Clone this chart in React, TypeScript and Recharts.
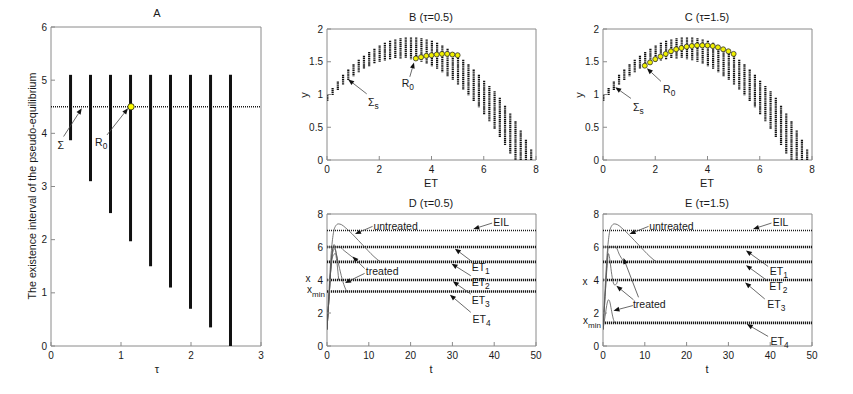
import React from "react";
import {
  ComposedChart,
  Bar,
  Line,
  XAxis,
  YAxis,
  ReferenceLine,
  ReferenceDot,
  ReferenceArea,
} from "recharts";

const FONT = "'Liberation Sans', Arial, Helvetica, sans-serif";
const INK = "#1a1a1a";
const BOX = "#8a8a8a";
const CURVE = "#555";

// ---- panel A: existence interval vs tau
const tauValues = [0.286, 0.571, 0.857, 1.143, 1.429, 1.714, 2.0, 2.286, 2.571];
const intervalLow = [3.87, 3.1, 2.5, 1.97, 1.5, 1.1, 0.7, 0.35, 0];
const intervalHigh = [5.1, 5.1, 5.1, 5.1, 5.1, 5.1, 5.1, 5.1, 5.1];
const sigmaLevel = 4.5;
const r0Tau = [1.143];

// ---- panels B, C: sliding domain columns
const etValues = [
  0, 0.2, 0.4, 0.6, 0.8, 1, 1.2, 1.4, 1.6, 1.8, 2, 2.2, 2.4, 2.6, 2.8, 3, 3.2, 3.4, 3.6, 3.8,
  4, 4.2, 4.4, 4.6, 4.8, 5, 5.2, 5.4, 5.6, 5.8, 6, 6.2, 6.4, 6.6, 6.8, 7, 7.2, 7.4, 7.6, 7.8,
];
const yHigh = [
  1.0, 1.1, 1.2, 1.3, 1.38, 1.46, 1.53, 1.59, 1.65, 1.7, 1.75, 1.79, 1.82, 1.84, 1.86, 1.87, 1.87, 1.87, 1.86, 1.84,
  1.82, 1.79, 1.75, 1.7, 1.65, 1.59, 1.53, 1.46, 1.38, 1.3, 1.21, 1.13, 1.05, 0.95, 0.83, 0.71, 0.59, 0.45, 0.31, 0.16,
];
const yLow = [
  0.9, 0.99, 1.07, 1.15, 1.22, 1.28, 1.34, 1.39, 1.43, 1.47, 1.5, 1.52, 1.54, 1.55, 1.55, 1.55, 1.54, 1.52, 1.5, 1.47,
  1.43, 1.39, 1.34, 1.28, 1.22, 1.15, 1.07, 0.99, 0.9, 0.8, 0.7, 0.59, 0.47, 0.35, 0.22, 0.09, 0, 0, 0, 0,
];
const r0EtB = [3.4, 3.6, 3.8, 4.0, 4.2, 4.4, 4.6, 4.8, 5.0];
const r0YB = [1.55, 1.57, 1.59, 1.6, 1.61, 1.62, 1.62, 1.61, 1.6];
const r0EtC = [1.6, 1.8, 2.0, 2.2, 2.4, 2.6, 2.8, 3.0, 3.2, 3.4, 3.6, 3.8, 4.0, 4.2, 4.4, 4.6, 4.8, 5.0];
const r0YC = [1.44, 1.49, 1.54, 1.58, 1.62, 1.66, 1.69, 1.71, 1.73, 1.74, 1.75, 1.75, 1.75, 1.74, 1.72, 1.69, 1.66, 1.62];

// ---- panels D, E: time series
const levelNames = ["EIL", "ET1", "ET2", "ET3", "ET4"];
const levelsD = [7, 6, 5.1, 4, 3.3];
const levelsE = [7, 6, 5.1, 4, 1.4];

const untreatedT = [0, 0.5, 1, 1.5, 2, 2.7, 3.5, 4.5, 6, 7.5, 9, 10.5, 12, 12.8];
const untreatedX = [1, 3.5, 5.6, 6.8, 7.25, 7.4, 7.35, 7.15, 6.8, 6.4, 6.0, 5.6, 5.25, 5.1];

const treatedD = [
  { t: [0, 0.5, 1, 1.4, 1.7, 2.2, 3, 3.8, 4.7], x: [1, 3, 5, 5.9, 6.15, 5.6, 4.7, 3.9, 3.3] },
  { t: [0, 0.5, 1, 1.4, 1.9, 2.3, 2.6], x: [1, 3, 5, 5.7, 5.9, 5.5, 5.1] },
  { t: [0, 0.5, 1, 1.5, 2, 2.4, 2.8], x: [1, 3, 4.9, 5.5, 5.6, 5.0, 4.0] },
  { t: [0, 0.5, 1, 1.5, 2.3, 3, 4, 5, 6, 7, 7.6], x: [1, 3, 5, 6, 6, 6, 5.8, 5.6, 5.4, 5.2, 5.1] },
];
const treatedE = [
  { t: [0, 0.5, 1, 1.3, 2, 3, 4, 5], x: [1, 3, 5.2, 6, 6, 6, 5.5, 5.1] },
  { t: [0, 0.5, 1, 1.3, 1.6, 2, 2.4, 2.8, 3.2, 3.5], x: [1, 3, 4.9, 5.6, 5.3, 4.5, 3.9, 3.7, 3.75, 4.0] },
  { t: [0, 0.5, 1, 1.3, 1.6, 2, 2.4, 2.8], x: [1, 1.8, 2.6, 2.8, 2.7, 2.2, 1.7, 1.4] },
];

// annotations: label position + arrows [tailX, tailY, headX, headY] in data units
type Note = {
  main: string;
  sub?: string;
  at: [number, number];
  anchor?: "start" | "middle" | "end";
  arrows: number[][];
};

const notesA: Note[] = [
  { main: "Σ", at: [0.14, 3.78], anchor: "middle", arrows: [[0.18, 3.94, 0.44, 4.47]] },
  { main: "R", sub: "0", at: [0.63, 3.83], arrows: [[0.8, 3.97, 1.1, 4.47]] },
];
const notesB: Note[] = [
  { main: "Σ", sub: "s", at: [1.57, 0.89], arrows: [[1.52, 1.01, 0.81, 1.23]] },
  { main: "R", sub: "0", at: [2.86, 1.18], arrows: [[3.17, 1.27, 3.33, 1.49]] },
];
const notesC: Note[] = [
  { main: "Σ", sub: "s", at: [1.15, 0.81], arrows: [[1.07, 0.94, 0.47, 1.11]] },
  { main: "R", sub: "0", at: [2.3, 1.08], arrows: [[2.22, 1.2, 1.68, 1.4]] },
];
const notesD: Note[] = [
  { main: "untreated", at: [11.1, 7.25], arrows: [[10.9, 7.25, 6.7, 6.79]] },
  { main: "EIL", at: [39.8, 7.51], arrows: [[39.5, 7.45, 35, 7.09]] },
  { main: "ET", sub: "1", at: [34.6, 4.8], arrows: [[34.4, 5.17, 30.6, 5.9]] },
  { main: "ET", sub: "2", at: [34.6, 3.9], arrows: [[34.4, 4.26, 29.8, 4.99]] },
  { main: "ET", sub: "3", at: [34.6, 2.79], arrows: [[34.4, 3.15, 30.1, 3.92]] },
  { main: "ET", sub: "4", at: [34.8, 1.61], arrows: [[34.4, 2.04, 29.4, 3.11]] },
  { main: "treated", at: [9.3, 4.56], arrows: [[9.0, 4.7, 6.1, 5.43], [9.0, 4.4, 4.3, 3.82]] },
];
const notesE: Note[] = [
  { main: "untreated", at: [11.05, 7.25], arrows: [[10.9, 7.25, 6.35, 6.79]] },
  { main: "EIL", at: [40.6, 7.51], arrows: [[40.3, 7.45, 35.9, 7.09]] },
  { main: "ET", sub: "1", at: [39.9, 4.56], arrows: [[39.5, 4.82, 34.2, 5.79]] },
  { main: "ET", sub: "2", at: [39.8, 3.65], arrows: [[39.3, 3.96, 34.2, 4.9]] },
  { main: "ET", sub: "3", at: [39.3, 2.55], arrows: [[38.7, 2.85, 34.0, 3.85]] },
  { main: "ET", sub: "4", at: [40.1, 0.28], arrows: [[39.5, 0.58, 34.4, 1.33]] },
  {
    main: "treated",
    at: [7.15, 2.56],
    arrows: [[8.5, 2.95, 4.9, 5.33], [7.3, 2.8, 3.2, 3.65], [7.15, 2.45, 2.5, 2.14]],
  },
];

function SubText({ x, y, main, sub, anchor = "start", size = 10.5 }: any) {
  return (
    <text x={x} y={y} textAnchor={anchor} fontSize={size} fontFamily={FONT} fill={INK} dominantBaseline="central">
      {main}
      {sub ? (
        <tspan dy={4} fontSize={size * 0.8}>
          {sub}
        </tspan>
      ) : null}
    </text>
  );
}

function arrowShape(p: any) {
  const { x1, y1, x2, y2 } = p;
  const dx = x2 - x1;
  const dy = y2 - y1;
  const len = Math.hypot(dx, dy) || 1;
  const ux = dx / len;
  const uy = dy / len;
  const bx = x2 - ux * 6;
  const by = y2 - uy * 6;
  const pts = `${x2},${y2} ${bx - uy * 2.4},${by + ux * 2.4} ${bx + uy * 2.4},${by - ux * 2.4}`;
  return (
    <g>
      <line x1={x1} y1={y1} x2={bx} y2={by} stroke="#444" strokeWidth={0.8} />
      <polygon points={pts} fill="#111" />
    </g>
  );
}

function renderNotes(notes: Note[], id: string) {
  const out: any[] = [];
  notes.forEach((n, i) => {
    n.arrows.forEach((a, j) => {
      out.push(
        <ReferenceLine
          key={`${id}-a${i}-${j}`}
          segment={[{ x: a[0], y: a[1] }, { x: a[2], y: a[3] }]}
          shape={arrowShape}
          ifOverflow="visible"
        />
      );
    });
    out.push(
      <ReferenceDot
        key={`${id}-l${i}`}
        x={n.at[0]}
        y={n.at[1]}
        r={1}
        fill="none"
        stroke="none"
        ifOverflow="visible"
        label={{
          content: (lp: any) => {
            const vb = lp.viewBox || {};
            return (
              <SubText
                x={vb.x + (vb.width || 0) / 2}
                y={vb.y + (vb.height || 0) / 2}
                main={n.main}
                sub={n.sub}
                anchor={n.anchor || "start"}
              />
            );
          },
        }}
      />
    );
  });
  return out;
}

const tickStyle = { fontSize: 10, fill: INK, fontFamily: FONT };

function frame(
  xKey: string,
  xDomain: number[],
  xTicks: number[],
  yDomain: number[],
  yTicks: number[],
  yWidth: number,
  xHeight: number
) {
  return [
    <XAxis
      key="xb"
      dataKey={xKey}
      type="number"
      domain={xDomain}
      ticks={xTicks}
      interval={0}
      allowDataOverflow
      height={xHeight}
      axisLine={false}
      tickLine={{ stroke: BOX }}
      tickSize={-4}
      tickMargin={9.5}
      tick={tickStyle}
    />,
    <XAxis
      key="xt"
      xAxisId="top"
      orientation="top"
      dataKey={xKey}
      type="number"
      domain={xDomain}
      ticks={xTicks}
      interval={0}
      allowDataOverflow
      height={0}
      axisLine={false}
      tickLine={{ stroke: BOX }}
      tickSize={-4}
      tick={false}
    />,
    <YAxis
      key="yl"
      type="number"
      domain={yDomain}
      ticks={yTicks}
      interval={0}
      allowDataOverflow
      width={yWidth}
      axisLine={false}
      tickLine={{ stroke: BOX }}
      tickSize={-4}
      tickMargin={8}
      tick={tickStyle}
    />,
    <YAxis
      key="yr"
      yAxisId="right"
      orientation="right"
      type="number"
      domain={yDomain}
      ticks={yTicks}
      interval={0}
      allowDataOverflow
      width={0}
      axisLine={false}
      tickLine={{ stroke: BOX }}
      tickSize={-4}
      tick={false}
    />,
    <ReferenceArea
      key="box"
      x1={xDomain[0]}
      x2={xDomain[1]}
      y1={yDomain[0]}
      y2={yDomain[1]}
      fill="none"
      stroke={BOX}
      strokeWidth={1}
      ifOverflow="visible"
    />,
  ];
}

function PanelA() {
  const data = tauValues.map((tau, i) => ({ tau, range: [intervalLow[i], intervalHigh[i]] }));
  const r0 = r0Tau.map((tau) => ({ tau, v: sigmaLevel }));
  return (
    <div style={{ position: "absolute", left: 0, top: 0 }}>
      <ComposedChart width={280} height={394} data={data} margin={{ top: 27, right: 19, bottom: 0, left: 0 }}>
        {frame("tau", [0, 3], [0, 1, 2, 3], [0, 6], [0, 1, 2, 3, 4, 5, 6], 51, 48)}
        <ReferenceLine y={sigmaLevel} stroke={INK} strokeWidth={1.5} strokeDasharray="1 1" />
        <Bar dataKey="range" barSize={3} fill="#111" isAnimationActive={false} />
        <Line
          data={r0}
          dataKey="v"
          stroke="none"
          dot={{ r: 3.2, fill: "#ffff00", stroke: INK, strokeWidth: 0.8 }}
          isAnimationActive={false}
        />
        {renderNotes(notesA, "a")}
      </ComposedChart>
    </div>
  );
}

const dottedColumn = (p: any) => {
  const cx = p.x + p.width / 2;
  const top = Math.min(p.y, p.y + p.height);
  const h = Math.abs(p.height);
  return <line x1={cx} x2={cx} y1={top} y2={top + h} stroke="#111" strokeWidth={2.2} strokeDasharray="1.3 0.6" />;
};

function PanelSliding({ left, r0Et, r0Y, notes, id }: any) {
  const data = etValues.map((et, i) => ({ et, range: [yLow[i], yHigh[i]] }));
  const r0 = r0Et.map((et: number, i: number) => ({ et, v: r0Y[i] }));
  return (
    <div style={{ position: "absolute", left, top: 0 }}>
      <ComposedChart width={250} height={192} data={data} margin={{ top: 29, right: 14, bottom: 0, left: 0 }}>
        {frame("et", [0, 8], [0, 2, 4, 6, 8], [0, 2], [0, 0.5, 1, 1.5, 2], 27, 32)}
        <Bar dataKey="range" barSize={2} shape={dottedColumn} isAnimationActive={false} />
        <Line
          data={r0}
          dataKey="v"
          stroke="none"
          dot={{ r: 2.5, fill: "#f0f000", stroke: "#333", strokeWidth: 0.8 }}
          isAnimationActive={false}
        />
        {renderNotes(notes, id)}
      </ComposedChart>
    </div>
  );
}

function PanelTime({ left, levels, treated, notes, id }: any) {
  const untreated = untreatedT.map((t, i) => ({ t, x: untreatedX[i] }));
  return (
    <div style={{ position: "absolute", left, top: 190 }}>
      <ComposedChart width={250} height={204} margin={{ top: 24, right: 14, bottom: 0, left: 0 }}>
        {frame("t", [0, 50], [0, 10, 20, 30, 40, 50], [0, 8], [0, 2, 4, 6, 8], 27, 48)}
        {levels.map((lv: number, i: number) => (
          <ReferenceLine
            key={levelNames[i]}
            y={lv}
            stroke={INK}
            strokeWidth={i === 0 ? 1.4 : 2.6}
            strokeDasharray={i === 0 ? "1 1" : "1.2 0.8"}
            label={
              i === levels.length - 1
                ? {
                    content: (lp: any) => (
                      <SubText x={lp.viewBox.x - 20} y={lp.viewBox.y - 2} main="x" sub="min" size={10} />
                    ),
                  }
                : undefined
            }
          />
        ))}
        <Line
          data={untreated}
          dataKey="x"
          type="monotone"
          stroke={CURVE}
          strokeWidth={0.8}
          dot={false}
          isAnimationActive={false}
        />
        {treated.map((c: any, k: number) => (
          <Line
            key={`tr${k}`}
            data={c.t.map((t: number, i: number) => ({ t, x: c.x[i] }))}
            dataKey="x"
            type="monotone"
            stroke={CURVE}
            strokeWidth={0.8}
            dot={false}
            isAnimationActive={false}
          />
        ))}
        {renderNotes(notes, id)}
      </ComposedChart>
    </div>
  );
}

function Overlay() {
  const t = (x: number, y: number, s: string, rot = false, size = 11) => (
    <text
      x={x}
      y={y}
      textAnchor="middle"
      dominantBaseline="central"
      fontSize={size}
      fontFamily={FONT}
      fill={INK}
      transform={rot ? `rotate(-90 ${x} ${y})` : undefined}
    >
      {s}
    </text>
  );
  return (
    <svg width={853} height={394} style={{ position: "absolute", left: 0, top: 0, pointerEvents: "none" }}>
      {t(157, 13, "A")}
      {t(157, 369, "τ")}
      {t(32, 186, "The existence interval of the pseudo-equilibrium", true, 10.7)}
      {t(431, 17, "B (τ=0.5)")}
      {t(431, 183, "ET")}
      {t(304, 95, "y", true)}
      {t(707, 17, "C (τ=1.5)")}
      {t(707, 183, "ET")}
      {t(579, 95, "y", true)}
      {t(431, 203, "D (τ=0.5)")}
      {t(431, 369, "t")}
      {t(308, 278, "x", false, 10)}
      {t(707, 203, "E (τ=1.5)")}
      {t(707, 369, "t")}
      {t(585, 281, "x", false, 10)}
    </svg>
  );
}

export default function App() {
  return (
    <div style={{ position: "absolute", left: 0, top: 0, width: 853, height: 394, background: "#fff" }}>
      <PanelA />
      <PanelSliding left={300} r0Et={r0EtB} r0Y={r0YB} notes={notesB} id="b" />
      <PanelSliding left={576} r0Et={r0EtC} r0Y={r0YC} notes={notesC} id="c" />
      <PanelTime left={300} levels={levelsD} treated={treatedD} notes={notesD} id="d" />
      <PanelTime left={576} levels={levelsE} treated={treatedE} notes={notesE} id="e" />
      <Overlay />
    </div>
  );
}
